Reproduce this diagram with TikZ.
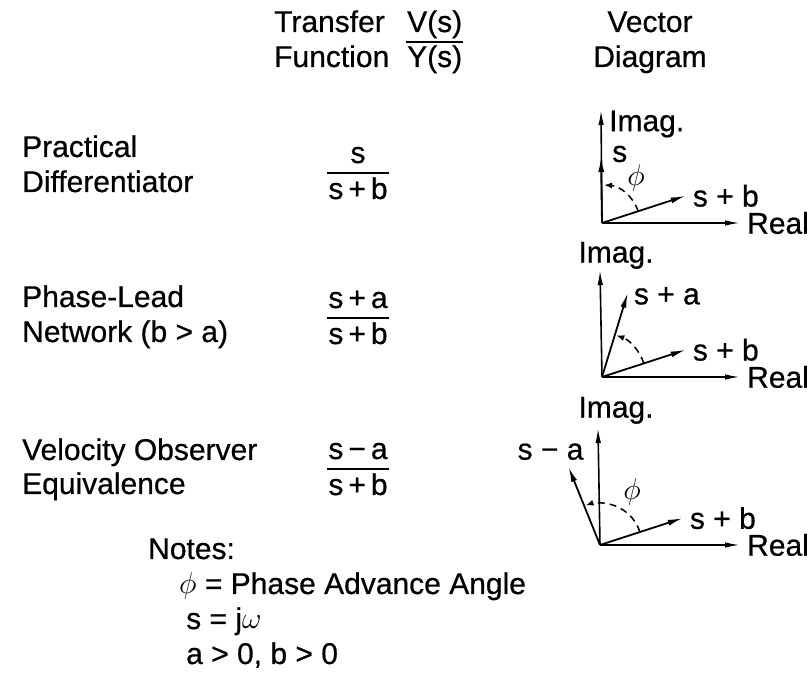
\RequirePackage{fix-cm}
\documentclass[tikz,border=0pt]{standalone}
\usepackage{fontspec}
\setmainfont{Liberation Sans}[FakeBold=0.6]
\usetikzlibrary{arrows.meta,positioning}

\begin{document}
\begin{tikzpicture}[
    x=1pt, y=1pt,
    font=\fontsize{30}{36}\selectfont,
    every node/.style={inner sep=1pt},
    txt/.style={anchor=base west},
    ctr/.style={anchor=base},
    axis/.style={-{Latex[length=15pt,width=5.5pt]}, line width=1.6pt},
    vec/.style={-{Latex[length=15pt,width=6pt]}, line width=1.8pt},
    ang/.style={-{Latex[length=8pt,width=6pt]}, line width=1.5pt, dash pattern=on 7pt off 5pt},
    bar/.style={line width=2pt}
]
\useasboundingbox (0,0) rectangle (812,687);

% Column headers
\node[txt] (tr) at (273,655) {Transfer};
\node[txt] (fn) at (273,620) {Function};
\node[txt] (vs) at (406,655) {V(s)};
\node[txt] (ys) at (406,620) {Y(s)};
\draw[bar] ([yshift=-3pt]vs.south west) -- ([yshift=-3pt]vs.south east);
\node[ctr] (vc) at (650,655) {Vector};
\node[ctr] (dg) at (650,620) {Diagram};

% Practical differentiator
\node[txt] (p1) at (21,530) {Practical};
\node[txt] (p2) at (21,495) {Differentiator};
\node[ctr] (n1) at (358,524) {s};
\node[ctr] (d1) at (358,488) {s\,+\,b};
\draw[bar] ([yshift=3pt]d1.north west) -- ([yshift=3pt]d1.north east);

% Phase-lead network
\node[txt] (q1) at (21,380) {Phase-Lead};
\node[txt] (q2) at (21,345) {Network (b > a)};
\node[ctr] (n2) at (358,379) {s\,+\,a};
\node[ctr] (d2) at (358,343) {s\,+\,b};
\draw[bar] ([yshift=3pt]d2.north west) -- ([yshift=3pt]d2.north east);

% Velocity observer
\node[txt] (r1) at (21,227) {Velocity Observer};
\node[txt] (r2) at (21,193) {Equivalence};
\node[ctr] (n3) at (358,228) {s\,−\,a};
\node[ctr] (d3) at (358,192) {s\,+\,b};
\draw[bar] ([yshift=3pt]d3.north west) -- ([yshift=3pt]d3.north east);

% Notes
\node[txt] (nt) at (147,128) {Notes:};
\node[txt] (nt1) at (178,93) {$\phi$ = Phase Advance Angle};
\node[txt] (nt2) at (185,58) {s = j$\omega$};
\node[txt] (nt3) at (185,23) {a > 0, b > 0};

% Vector diagram 1
\coordinate (o1) at (602,464);
\coordinate (re1) at (740,464);
\coordinate (im1) at (601,577);
\coordinate (s1) at (601,530);
\coordinate (sb1) at ([shift={(18:88)}]o1);
\draw[axis] (o1) -- (re1);
\draw[axis] (o1) -- (im1);
\draw[vec] (o1) -- (s1);
\draw[vec] (o1) -- (sb1);
\draw[ang] ([shift={(18:38)}]o1) arc[start angle=18, end angle=87, radius=38];
\node[right=6pt of re1] (lr1) {Real};
\node[right=7pt of im1, yshift=-14pt] (li1) {Imag.};
\node[right=10pt of s1, yshift=3pt] (ls1) {s};
\node[right=6pt of sb1] (lb1) {s + b};
\node (ph1) at ([shift={(34,45)}]o1) {$\phi$};

% Vector diagram 2
\coordinate (o2) at (602,310);
\coordinate (re2) at (740,310);
\coordinate (im2) at (600,417);
\coordinate (sa2) at ([shift={(73:88)}]o2);
\coordinate (sb2) at ([shift={(18:88)}]o2);
\draw[axis] (o2) -- (re2);
\draw[axis] (o2) -- (im2);
\draw[vec] (o2) -- (sa2);
\draw[vec] (o2) -- (sb2);
\draw[ang] ([shift={(18:44)}]o2) arc[start angle=18, end angle=71, radius=44];
\node[right=6pt of re2] (lr2) {Real};
\node[above=0pt of im2, xshift=16pt] (li2) {Imag.};
\node[right=5pt of sa2, yshift=-3pt] (la2) {s + a};
\node[right=6pt of sb2] (lb2) {s + b};

% Vector diagram 3
\coordinate (o3) at (600,142);
\coordinate (re3) at (740,142);
\coordinate (im3) at (598,259);
\coordinate (sm3) at ([shift={(112:84)}]o3);
\coordinate (sb3) at ([shift={(18:87)}]o3);
\draw[axis] (o3) -- (re3);
\draw[axis] (o3) -- (im3);
\draw[vec] (o3) -- (sm3);
\draw[vec] (o3) -- (sb3);
\draw[ang] ([shift={(18:42)}]o3) arc[start angle=18, end angle=110, radius=42];
\node[right=6pt of re3] (lr3) {Real};
\node[above=3pt of im3, xshift=18pt] (li3) {Imag.};
\node[above=6pt of sm3, xshift=-18pt] (lm3) {s − a};
\node[right=6pt of sb3] (lb3) {s + b};
\node (ph3) at ([shift={(32,53)}]o3) {$\phi$};

\end{tikzpicture}
\end{document}
